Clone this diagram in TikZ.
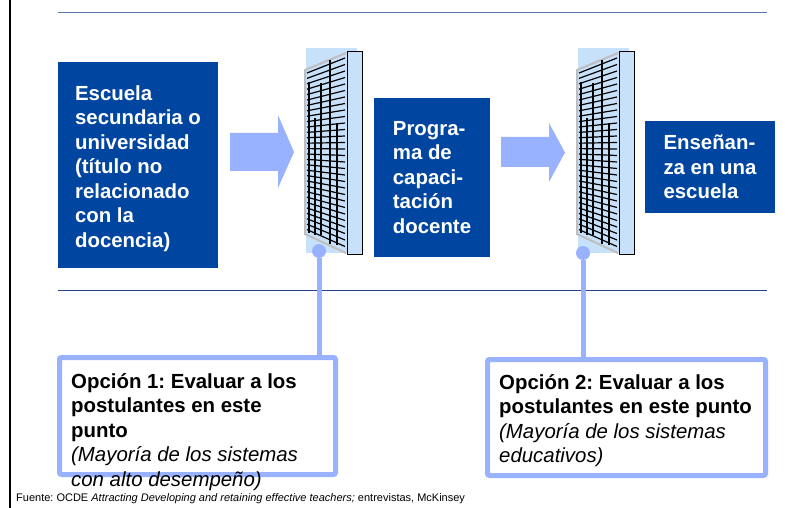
\documentclass[tikz,border=0pt]{standalone}
\usepackage{fontspec}
\setmainfont{Liberation Sans}
\usepackage{tikz}
\usepackage{xcolor}
\definecolor{boxBlue}{HTML}{0046A0}
\definecolor{arrowBlue}{HTML}{99B2FF}
\definecolor{filterBlue}{HTML}{C8E1FA}
\definecolor{frameGray}{HTML}{BEBEBE}
\definecolor{ruleBlue}{HTML}{5A78AA}
\definecolor{ruleNavy}{HTML}{23448C}
\frenchspacing

\begin{document}
\begin{tikzpicture}[x=1pt, y=-1pt,
            every node/.style={font=\fontsize{20.4}{24.5}\selectfont}]
            \tikzstyle{stageStyle} = [fill=boxBlue, text=white, align=left, inner sep=0pt,
                font=\bfseries\fontsize{20.4}{24.5}\selectfont]
            \tikzstyle{optionStyle} = [draw=arrowBlue, line width=5pt, fill=white,
                rounded corners=2pt, inner sep=0pt]
            \tikzstyle{optionText} = [anchor=north west, inner sep=0pt, align=left,
                font=\bfseries\fontsize{20.4}{24.5}\selectfont]
            \tikzstyle{dotStyle} = [circle, fill=arrowBlue, minimum size=14pt, inner sep=0pt]
            \tikzstyle{connStyle} = [draw=arrowBlue, line width=5pt]
            \tikzstyle{gridLine} = [draw=black, line width=1.2pt]
            \tikzstyle{panelStyle} = [draw=black, fill=filterBlue, line width=1pt]
            \useasboundingbox (0,0) rectangle (807,508);
            % rules
            \draw[black, line width=1.5pt] (10,0) -- (10,508);
            \draw[ruleBlue, line width=1pt] (58,13) -- (767,13);
            \draw[ruleNavy, line width=1pt] (58,291) -- (767,291);
            % stages
            \node[stageStyle, minimum width=160pt, minimum height=206pt] (school) at (138,165)
                {\rule{0pt}{22pt}Escuela\\ secundaria o\\ universidad\\ (título no\\ relacionado\\ con la\\ docencia)};
            \node[stageStyle, minimum width=116pt, minimum height=159pt] (program) at (432,177.5)
                {Progra-\\ ma de\\ capaci-\\ tación\\ docente};
            \node[stageStyle, minimum width=130pt, minimum height=92pt] (teaching) at (710,167)
                {Enseñan-\\ za en una\\ escuela};
            % arrows
            \fill[arrowBlue] (230,133) -- (278,133) -- (278,115) -- (294,152)
                -- (278,188) -- (278,171) -- (230,171) -- cycle;
            \fill[arrowBlue] (501,137) -- (549,137) -- (549,123) -- (565,152.5)
                -- (549,182) -- (549,167) -- (501,167) -- cycle;
            % filters
            \foreach \fx in {305,577} {
                \fill[filterBlue] (\fx+1,48) rectangle (\fx+52,253);
                \draw[frameGray, line width=2pt] (\fx+41,53) -- (\fx,70) -- (\fx,234) -- (\fx+41,253);
                \foreach \i in {0,...,29}
                    \draw[gridLine] (\fx+2,73+\i*5.4) -- (\fx+40,58+\i*6.5);
                \foreach \vx/\ya/\yb in {4/82/233, 10/118/235, 16/83/235, 25/60/244, 32/123/245}
                    \draw[gridLine, line width=1.4pt] (\fx+\vx,\ya) -- (\fx+\vx,\yb);
                \draw[panelStyle] (\fx+42,52) rectangle (\fx+57,255);
            }
            \node[dotStyle] (dot1) at (319,251) {};
            \node[dotStyle] (dot2) at (583,253) {};
            % options
            \node[optionStyle, minimum width=276pt, minimum height=117pt] (opt1) at (197.5,416) {};
            \node[optionStyle, minimum width=278pt, minimum height=116pt] (opt2) at (626.5,417.5) {};
            \path[connStyle] (dot1.south) -- (dot1 |- opt1.north);
            \path[connStyle] (dot2.south) -- (dot2 |- opt2.north);
            \node[optionText] (opt1text) at (71,373.2)
                {Opción 1: Evaluar a los\\ postulantes en este\\ punto\\
                 {\mdseries\itshape (Mayoría de los sistemas}\\
                 {\mdseries\itshape con alto desempeño)}};
            \node[optionText] (opt2text) at (499,374.2)
                {Opción 2: Evaluar a los\\ postulantes en este punto\\
                 {\mdseries\itshape (Mayoría de los sistemas}\\
                 {\mdseries\itshape educativos)}};
            % source
            \node[anchor=base west, inner sep=0pt, font=\fontsize{11}{13}\selectfont] (source) at (16,501)
                {Fuente: OCDE \textit{Attracting Developing and retaining effective teachers;} entrevistas, McKinsey};
\end{tikzpicture}
\end{document}
